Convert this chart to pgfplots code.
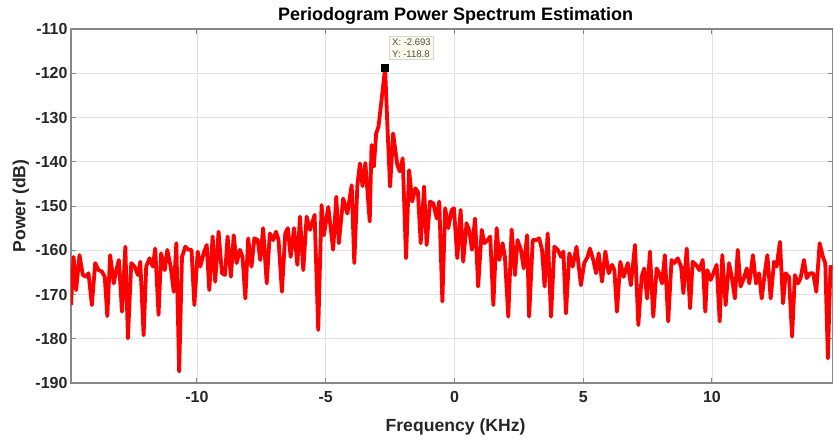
\documentclass[border=0pt]{standalone}
\usepackage{pgfplots}
\pgfplotsset{compat=1.18}
\usepackage{fontspec}
\setmainfont{Liberation Sans}

\definecolor{axgray}{RGB}{135,135,135}
\definecolor{gridgray}{RGB}{226,226,226}
\definecolor{tipbg}{RGB}{250,250,234}
\definecolor{tipedge}{RGB}{215,215,195}

% periodogram, frequency in kHz, power in dB
\pgfplotstableread{
f p
-14.89 -172.4
-14.79 -161.5
-14.69 -169.0
-14.56 -161.1
-14.43 -165.6
-14.30 -166.0
-14.21 -165.2
-14.08 -172.4
-13.95 -162.9
-13.82 -164.5
-13.69 -164.8
-13.58 -166.0
-13.48 -174.9
-13.37 -161.1
-13.23 -167.5
-13.13 -164.5
-13.03 -162.2
-12.91 -173.9
-12.78 -159.2
-12.68 -179.9
-12.55 -162.9
-12.42 -163.7
-12.29 -165.6
-12.20 -162.6
-12.07 -179.2
-11.97 -163.7
-11.84 -161.8
-11.71 -163.7
-11.62 -159.6
-11.49 -174.6
-11.39 -160.7
-11.25 -164.5
-11.15 -159.9
-11.02 -163.7
-10.90 -169.4
-10.80 -158.4
-10.69 -187.4
-10.58 -161.5
-10.45 -159.2
-10.32 -159.9
-10.21 -159.9
-10.10 -172.4
-9.97 -160.3
-9.87 -163.7
-9.74 -160.7
-9.62 -158.8
-9.52 -169.0
-9.39 -156.9
-9.29 -167.1
-9.16 -155.8
-9.03 -165.2
-8.91 -165.6
-8.81 -156.9
-8.68 -166.0
-8.57 -156.6
-8.46 -162.9
-8.33 -159.9
-8.23 -161.5
-8.12 -170.9
-8.01 -157.3
-7.88 -163.7
-7.77 -157.3
-7.64 -157.7
-7.54 -162.2
-7.43 -155.0
-7.29 -167.5
-7.17 -156.2
-7.04 -157.7
-6.93 -155.8
-6.83 -157.7
-6.70 -169.4
-6.57 -156.2
-6.47 -155.0
-6.36 -161.5
-6.23 -155.0
-6.10 -163.3
-6.00 -152.4
-5.87 -164.5
-5.74 -152.4
-5.61 -155.4
-5.43 -152.0
-5.29 -178.0
-5.16 -149.8
-5.07 -156.6
-4.90 -150.2
-4.71 -159.9
-4.59 -147.9
-4.49 -158.4
-4.32 -148.3
-4.16 -151.7
-3.99 -145.3
-3.89 -162.9
-3.77 -145.3
-3.67 -140.4
-3.57 -145.5
-3.46 -140.3
-3.29 -153.5
-3.22 -136.2
-3.13 -141.1
-3.04 -133.6
-2.95 -132.1
-2.83 -126.0
-2.693 -118.8
-2.61 -131.0
-2.50 -145.6
-2.38 -133.6
-2.22 -140.7
-2.12 -142.2
-2.01 -139.2
-1.88 -161.8
-1.76 -141.9
-1.64 -149.0
-1.52 -146.0
-1.42 -146.8
-1.31 -158.4
-1.18 -145.6
-1.08 -158.8
-0.95 -149.0
-0.82 -149.4
-0.69 -152.8
-0.59 -149.0
-0.47 -171.6
-0.36 -150.5
-0.24 -155.0
-0.11 -150.9
-0.02 -150.5
0.11 -161.8
0.24 -150.9
0.34 -162.6
0.47 -153.9
0.57 -155.4
0.68 -159.9
0.80 -152.8
0.92 -168.2
1.06 -155.4
1.16 -158.4
1.29 -157.7
1.39 -156.9
1.51 -172.4
1.64 -155.0
1.74 -162.2
1.87 -158.4
1.96 -161.5
2.09 -175.0
2.22 -155.3
2.35 -165.6
2.45 -157.7
2.58 -159.9
2.69 -164.1
2.82 -156.6
2.90 -175.0
3.04 -157.7
3.17 -157.7
3.29 -157.3
3.40 -159.9
3.50 -168.2
3.62 -156.2
3.75 -175.0
3.88 -159.2
4.01 -159.9
4.14 -161.5
4.23 -160.3
4.33 -174.3
4.46 -160.7
4.59 -163.7
4.74 -159.2
4.91 -167.9
5.04 -162.9
5.17 -161.5
5.26 -159.6
5.39 -162.2
5.50 -165.2
5.60 -160.7
5.73 -167.1
5.86 -160.3
5.99 -165.2
6.12 -163.3
6.21 -164.5
6.31 -173.9
6.44 -162.6
6.57 -166.0
6.73 -162.9
6.85 -167.9
7.01 -158.8
7.14 -176.9
7.27 -166.0
7.37 -164.1
7.48 -170.9
7.59 -160.3
7.72 -175.0
7.85 -164.1
7.95 -165.2
8.06 -167.5
8.17 -161.1
8.30 -176.1
8.43 -162.2
8.54 -162.9
8.67 -161.8
8.80 -163.7
8.89 -169.7
9.02 -159.6
9.15 -173.1
9.25 -162.6
9.38 -163.3
9.51 -164.5
9.64 -162.2
9.74 -173.9
9.82 -164.5
9.95 -166.7
10.08 -164.8
10.18 -163.3
10.30 -176.1
10.40 -161.1
10.53 -172.4
10.66 -162.9
10.77 -166.0
10.89 -170.9
11.00 -159.9
11.11 -168.2
11.24 -166.3
11.35 -164.1
11.45 -167.5
11.59 -161.1
11.71 -167.5
11.83 -165.2
11.93 -170.9
12.05 -165.2
12.15 -161.1
12.28 -170.9
12.41 -162.6
12.51 -163.7
12.64 -158.1
12.76 -172.0
12.86 -165.2
12.99 -166.0
13.11 -179.5
13.22 -165.6
13.34 -167.5
13.44 -166.3
13.57 -162.2
13.68 -166.3
13.81 -165.2
13.93 -165.2
14.05 -169.4
14.18 -158.4
14.31 -161.5
14.40 -162.9
14.50 -184.4
14.60 -163.7
14.68 -164.1
}\psd

\begin{document}
\begin{tikzpicture}
\useasboundingbox (-71pt,-56pt) rectangle (763pt,383pt);
\begin{axis}[
    scale only axis,
    width=761.5pt, height=354pt,
    xmin=-14.89, xmax=14.68,
    ymin=-190, ymax=-110,
    xtick={-10,-5,0,5,10},
    ytick={-190,-180,...,-110},
    grid=major,
    major grid style={gridgray, line width=0.8pt},
    axis line style={axgray, line width=1.3pt},
    tick style={axgray, line width=1pt},
    tick align=inside, tick pos=both, major tick length=5pt,
    /pgf/number format/assume math mode=true,
    ticklabel style={font=\fontsize{16}{18}\selectfont\bfseries, text=black!85},
    xticklabel style={yshift=-5pt},
    xlabel={Frequency (KHz)},
    ylabel={Power (dB)},
    label style={font=\fontsize{17.6}{20}\selectfont\bfseries, text=black!85},
    x label style={at={(axis description cs:0.505,-0.1356)}, anchor=base},
    y label style={at={(axis description cs:-0.0598,0.5)}, anchor=base},
    every axis title shift=0pt,
    title={Periodogram Power Spectrum Estimation},
    title style={at={(axis description cs:0.505,1.0254)}, anchor=base,
        font=\fontsize{18}{20}\selectfont\bfseries},
    clip=true,
]
\addplot[red, line width=3.8pt, line join=round] table[x=f, y=p] {\psd};
\addplot[only marks, mark=square*, mark size=3.5pt, black] coordinates {(-2.693,-118.8)};
\node[anchor=south west, draw=tipedge, fill=tipbg, line width=0.6pt,
      font=\fontsize{9.5}{12}\selectfont, text=black!70, align=left,
      inner xsep=2.5pt, inner ysep=2.5pt]
    at (axis cs:-2.693,-118.8) [xshift=4.3pt, yshift=8pt] {X: -2.693\\Y: -118.8};
\end{axis}
\end{tikzpicture}
\end{document}
